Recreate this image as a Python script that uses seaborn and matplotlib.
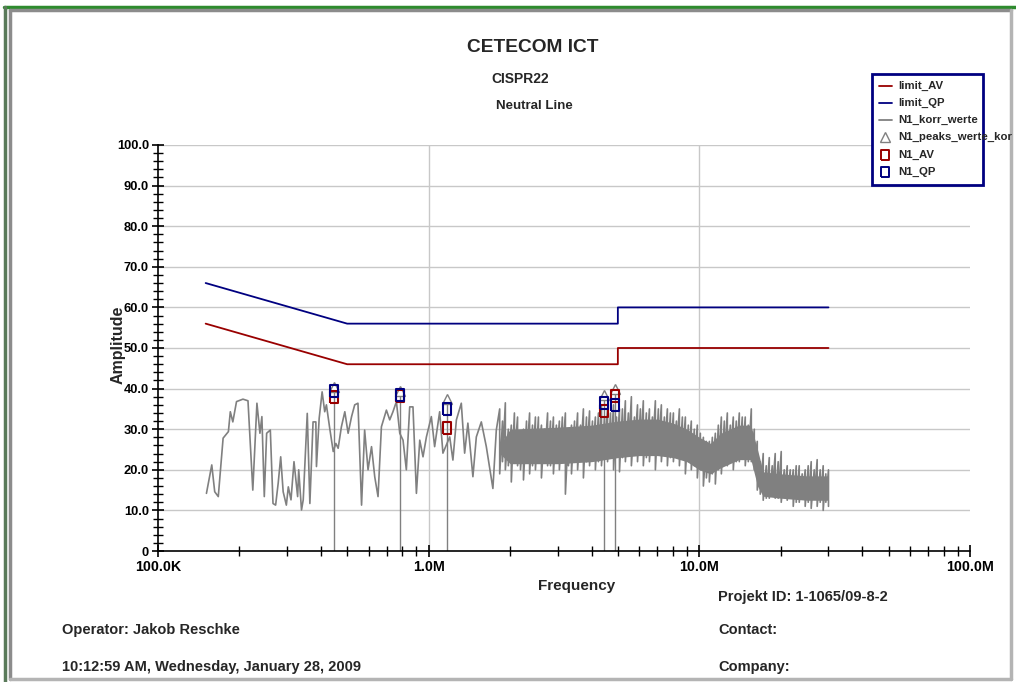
import numpy as np
import pandas as pd
import matplotlib
matplotlib.use("Agg")
import matplotlib.pyplot as plt
import seaborn as sns
from matplotlib.lines import Line2D
from matplotlib.patches import Rectangle
from matplotlib.ticker import FixedLocator, NullFormatter

sns.set_style("white")
plt.rcParams['font.family'] = ['Liberation Sans', 'DejaVu Sans']
plt.rcParams['font.weight'] = 'bold'

# ---------------- data (frequency in MHz, amplitude in dB) ----------------
limit_f = [0.15, 0.5, 5.0, 5.0, 30.0]
limit_qp = [66, 56, 56, 60, 60]
limit_av = [56, 46, 46, 50, 50]

# sparse part of the measured trace (N1_korr_werte)
sparse_f = [0.151, 0.158, 0.162, 0.167, 0.174, 0.182, 0.185, 0.189, 0.195, 0.206,
            0.215, 0.224, 0.232, 0.238, 0.242, 0.247, 0.252, 0.260, 0.266, 0.272,
            0.278, 0.284, 0.290, 0.298, 0.303, 0.310, 0.318, 0.328, 0.331, 0.339,
            0.344, 0.356, 0.364, 0.374, 0.383, 0.385, 0.394, 0.404, 0.413, 0.419,
            0.431, 0.444, 0.454, 0.463, 0.476, 0.490, 0.504, 0.519, 0.533, 0.548,
            0.565, 0.580, 0.597, 0.615, 0.632, 0.650, 0.669, 0.698, 0.718, 0.738,
            0.760, 0.782, 0.804, 0.827, 0.851, 0.875, 0.901, 0.927, 0.953, 0.981,
            1.023, 1.052, 1.098, 1.129, 1.196, 1.229, 1.266, 1.320, 1.358, 1.396,
            1.457, 1.500, 1.565, 1.633, 1.727, 1.778]
sparse_v = [14.2, 21.2, 14.6, 13.4, 27.8, 29.4, 34.3, 31.8, 36.8, 37.4,
            37.0, 15.0, 36.4, 29.0, 33.1, 13.4, 29.0, 29.8, 11.7, 11.3,
            16.7, 23.2, 14.6, 11.3, 15.8, 12.6, 22.0, 13.4, 20.0, 10.1,
            12.6, 33.9, 11.7, 31.8, 31.8, 20.8, 32.7, 39.2, 34.3, 36.0,
            30.2, 24.5, 26.5, 25.3, 30.6, 34.3, 29.0, 33.1, 36.0, 36.4,
            11.3, 29.8, 20.0, 25.7, 18.3, 13.4, 30.6, 34.7, 32.3, 34.3,
            36.8, 29.0, 27.3, 20.0, 35.5, 35.5, 14.2, 27.3, 23.2, 28.1,
            33.1, 25.7, 34.3, 24.1, 28.1, 22.4, 32.3, 36.4, 24.1, 31.5,
            18.3, 28.1, 31.8, 25.7, 15.4, 29.8]

# dense part of the trace: extreme upper / lower readings per frequency
dense_f = [1.83, 1.92, 2.02, 2.13, 2.24, 2.36, 2.48, 2.61, 2.75, 2.89,
           3.04, 3.20, 3.37, 3.55, 3.73, 3.93, 4.13, 4.35, 4.58, 4.82,
           5.07, 5.33, 5.61, 5.91, 6.21, 6.54, 6.88, 7.24, 7.62, 8.02,
           8.44, 8.88, 9.34, 9.83, 10.35, 10.89, 11.46, 12.06, 12.69, 13.35,
           14.05, 14.78, 15.56, 16.37, 17.22, 18.13, 19.07, 20.07, 21.12, 22.23,
           23.39, 24.61, 25.90, 27.25, 28.68, 30.0]
dense_hi = [35, 36.5, 31, 33, 30, 34, 33, 31, 34, 33,
            32, 34, 31, 34, 35, 34.5, 33, 36, 35, 36,
            35, 37, 38, 36, 37, 35, 37, 36, 35, 34,
            35, 33, 32, 31, 28, 27, 29, 33, 34, 33,
            34, 33, 35, 27, 24, 23, 24, 24.5, 21, 20,
            21, 20, 22, 22.5, 21, 20]
dense_lo = [19, 20, 17, 21, 17.5, 19, 20, 18, 21, 19,
            20, 14, 19, 20, 18, 21, 20, 21, 22, 20,
            19.5, 22, 21, 22, 21, 22, 20, 22, 21, 22,
            21, 19, 20, 18, 16, 17, 16.5, 19, 21, 20,
            22, 21, 22, 15, 12.5, 13, 13, 12, 12.5, 11,
            12, 11, 10.5, 11, 10, 11]

# dense part: intermediate readings between the extremes
dense2_f = [1.874, 1.969, 2.074, 2.184, 2.299, 2.419, 2.544, 2.679, 2.819, 2.964,
            3.119, 3.284, 3.459, 3.639, 3.829, 4.029, 4.239, 4.464, 4.699, 4.944,
            5.198, 5.468, 5.758, 6.058, 6.373, 6.708, 7.058, 7.428, 7.818, 8.227,
            8.657, 9.107, 9.582, 10.087, 10.617, 11.172, 11.756, 12.371, 13.016, 13.695,
            14.41, 15.165, 15.96, 16.79, 17.67, 18.59, 19.56, 20.59, 21.67, 22.80,
            23.99, 25.25, 26.57, 27.96, 29.33]
dense2_hi = [32, 30, 34, 29, 32, 31, 33, 30, 32, 31,
             33, 30, 32, 31, 33, 32, 34, 33, 34, 33,
             35, 34, 33, 35, 34, 33, 35, 33, 34, 32,
             33, 31, 30, 29, 27, 28, 31, 32, 31, 32,
             33, 31, 30, 22, 21, 21, 22, 20, 20, 21,
             19, 21, 20, 20, 19]
dense2_lo = [22, 21, 23, 20, 22, 21, 23, 22, 21, 22,
             23, 21, 22, 23, 22, 23, 22, 24, 23, 24,
             23, 24, 25, 24, 23, 24, 25, 24, 23, 24,
             23, 22, 21, 20, 18, 19, 20, 22, 23, 22,
             23, 22, 20, 14, 13, 14, 13, 14, 13, 12,
             13, 12, 13, 12, 12]

# solid core of the dense band
core_f = [1.83, 2.0, 3.0, 4.0, 5.0, 6.0, 7.0, 8.0, 9.0, 10.0, 11.0, 12.0, 14.0, 15.5,
          16.4, 17.2, 20.0, 25.0, 30.0]
core_hi = [26, 30, 30.5, 31, 32, 32.5, 32.5, 31.5, 30, 28, 26.5, 29, 31, 31, 25, 19.5, 19, 18.5, 18.5]
core_lo = [24, 21.5, 21.5, 22, 23, 23.5, 23.5, 23, 22, 20, 19, 20.5, 22.5, 22.5, 16, 13.5, 13, 12.5, 12.5]

# final measurement points
mark_f = [0.446, 0.782, 1.165, 4.46, 4.86]
peak_v = [40.5, 39.5, 37.4, 38.4, 39.9]
qp_v = [39.4, 38.4, 35.0, 36.5, 36.0]
av_v = [37.9, 38.3, 30.3, 34.5, 38.2]

y_ticks = [0, 10, 20, 30, 40, 50, 60, 70, 80, 90, 100]
y_labels = ["0", "10.0", "20.0", "30.0", "40.0", "50.0", "60.0", "70.0", "80.0", "90.0", "100.0"]
x_ticks = [0.1, 1.0, 10.0, 100.0]
x_labels = ["100.0K", "1.0M", "10.0M", "100.0M"]

# legend entries as visible in the reference (the fourth one is cut by the page edge there)
legend_names = ["limit_AV", "limit_QP", "N1_korr_werte", "N1_peaks_werte_kor", "N1_AV", "N1_QP"]

# ---------------- styles ----------------
C_AV = "#990000"
C_QP = "#000080"
C_TR = "#808080"
C_GRID = "#c8c8c8"
rect_marker = [(-0.36, -0.5), (0.36, -0.5), (0.36, 0.5), (-0.36, 0.5), (-0.36, -0.5)]

W, H = 1016, 682
fig = plt.figure(figsize=(W / 100, H / 100), dpi=100)
fig.patch.set_facecolor("white")

def fx(px):
    return px / W

def fy(py):
    return 1 - py / H

ax = fig.add_axes([fx(158), fy(551), fx(970) - fx(158), fy(145) - fy(551)])
ax.set_xscale("log")
ax.set_xlim(0.1, 100)
ax.set_ylim(0, 100)

# grid
for v in y_ticks[1:]:
    ax.axhline(v, color=C_GRID, lw=1.0, zorder=0)
for v in x_ticks[1:3]:
    ax.axvline(v, color=C_GRID, lw=1.0, zorder=0)

# trace: sparse part then dense part (extremes and intermediates merged by frequency)
d_rows = sorted([(f, h, l) for f, h, l in zip(dense_f, dense_hi, dense_lo)] +
                [(f, h, l) for f, h, l in zip(dense2_f, dense2_hi, dense2_lo)])
tr_f = list(sparse_f)
tr_v = list(sparse_v)
for f, h, l in d_rows:
    tr_f += [f, f]
    tr_v += [h, l]
ax.fill_between(core_f, core_lo, core_hi, color=C_TR, lw=0, zorder=2)
sns.lineplot(x=tr_f, y=tr_v, estimator=None, sort=False, color=C_TR, lw=1.2, ax=ax, zorder=2)
ax.vlines(mark_f, 0, peak_v, color=C_TR, lw=1.0, zorder=2)

# limits
sns.lineplot(x=limit_f, y=limit_av, estimator=None, sort=False, color=C_AV, lw=1.3, ax=ax, zorder=3)
sns.lineplot(x=limit_f, y=limit_qp, estimator=None, sort=False, color=C_QP, lw=1.3, ax=ax, zorder=3)

# markers
ax.plot(mark_f, peak_v, ls="none", marker="^", ms=7, mfc="white", mec=C_TR, mew=1.0, zorder=4)
ax.plot(mark_f, av_v, ls="none", marker=rect_marker, ms=8.5, mfc="none", mec=C_AV, mew=1.5, zorder=5)
ax.plot(mark_f, qp_v, ls="none", marker=rect_marker, ms=8.5, mfc="none", mec=C_QP, mew=1.5, zorder=6)

# axes styling
for s in ["top", "right"]:
    ax.spines[s].set_visible(False)
for s in ["left", "bottom"]:
    ax.spines[s].set_color("black")
    ax.spines[s].set_linewidth(1.2)
    ax.spines[s].set_zorder(7)
ax.set_yticks(y_ticks)
ax.set_yticklabels(y_labels)
ax.yaxis.set_minor_locator(FixedLocator([v for v in range(0, 101, 2) if v % 10]))
ax.set_xticks(x_ticks)
ax.set_xticklabels(x_labels)
minor_x = [m * d for d in [0.1, 1, 10] for m in range(2, 10)]
ax.xaxis.set_minor_locator(FixedLocator(minor_x))
ax.xaxis.set_minor_formatter(NullFormatter())
ax.tick_params(axis="both", which="both", bottom=True, left=True, top=False, right=False)
ax.tick_params(axis="both", which="major", direction="inout", length=9, width=1.2,
               colors="black", pad=2)
ax.tick_params(axis="y", which="major", labelsize=9.3)
ax.tick_params(axis="x", which="major", labelsize=10.3)
ax.tick_params(axis="both", which="minor", direction="inout", length=7, width=1.0, colors="black")
for lab in ax.get_xticklabels() + ax.get_yticklabels():
    lab.set_fontweight("bold")
ax.set_xlabel("")
ax.set_ylabel("")
ax.set_facecolor("none")

# titles and labels
fig.text(fx(533), fy(47), "CETECOM ICT", ha="center", va="center", fontsize=13.8, fontweight="bold")
fig.text(fx(520), fy(79), "CISPR22", ha="center", va="center", fontsize=10, fontweight="bold")
fig.text(fx(534), fy(106), "Neutral Line", ha="center", va="center", fontsize=9.5, fontweight="bold")
fig.text(fx(577), fy(586), "Frequency", ha="center", va="center", fontsize=11, fontweight="bold")
fig.text(fx(118), fy(345), "Amplitude", ha="center", va="center", rotation=90, fontsize=11.5, fontweight="bold")

fs_info = 10.5
fig.text(fx(718), fy(597), "Projekt ID: 1-1065/09-8-2", ha="left", va="center", fontsize=fs_info, fontweight="bold")
fig.text(fx(62), fy(630), "Operator: Jakob Reschke", ha="left", va="center", fontsize=fs_info, fontweight="bold")
fig.text(fx(718), fy(630), "Contact:", ha="left", va="center", fontsize=fs_info, fontweight="bold")
fig.text(fx(62), fy(667), "10:12:59 AM, Wednesday, January 28, 2009", ha="left", va="center", fontsize=fs_info, fontweight="bold")
fig.text(fx(718), fy(667), "Company:", ha="left", va="center", fontsize=fs_info, fontweight="bold")

# legend (manual, text overflows the box as in the reference)
fig.patches.append(Rectangle((fx(872), fy(185)), fx(983) - fx(872), fy(74) - fy(185),
                             transform=fig.transFigure, facecolor="white", edgecolor=C_QP,
                             lw=2, zorder=10))
leg_y = [86, 103, 120, 137, 155, 172]
styles = [("line", C_AV), ("line", C_QP), ("line", C_TR), ("tri", C_TR), ("rect", C_AV), ("rect", C_QP)]
for name, yy, (kind, col) in zip(legend_names, leg_y, styles):
    if kind == "line":
        fig.add_artist(Line2D([fx(879), fx(892)], [fy(yy), fy(yy)], color=col, lw=1.3,
                              transform=fig.transFigure, zorder=11))
    elif kind == "tri":
        fig.add_artist(Line2D([fx(885)], [fy(yy)], ls="none", marker="^", ms=6.5, mfc="white",
                              mec=col, mew=1.0, transform=fig.transFigure, zorder=11))
    else:
        fig.add_artist(Line2D([fx(885)], [fy(yy)], ls="none", marker=rect_marker, ms=7.5, mfc="none",
                              mec=col, mew=1.4, transform=fig.transFigure, zorder=11))
    fig.text(fx(898), fy(yy), name, ha="left", va="center", fontsize=8.2, fontweight="bold", zorder=12)

# outer frame
fig.add_artist(Line2D([fx(4), fx(1016)], [fy(7), fy(7)], color="#2e8b2e", lw=2.5, transform=fig.transFigure))
fig.add_artist(Line2D([fx(5), fx(5)], [fy(7), fy(682)], color="#5a7a5a", lw=2.5, transform=fig.transFigure))
fig.add_artist(Line2D([fx(10), fx(1011)], [fy(10), fy(10)], color="#8c8c8c", lw=2.5, transform=fig.transFigure))
fig.add_artist(Line2D([fx(10), fx(10)], [fy(10), fy(679)], color="#8c8c8c", lw=2.5, transform=fig.transFigure))
fig.add_artist(Line2D([fx(1011), fx(1011)], [fy(10), fy(679)], color="#b4b4b4", lw=2.5, transform=fig.transFigure))
fig.add_artist(Line2D([fx(10), fx(1011)], [fy(679), fy(679)], color="#b4b4b4", lw=2.5, transform=fig.transFigure))

fig.savefig("out.png", dpi=100, facecolor="white")
